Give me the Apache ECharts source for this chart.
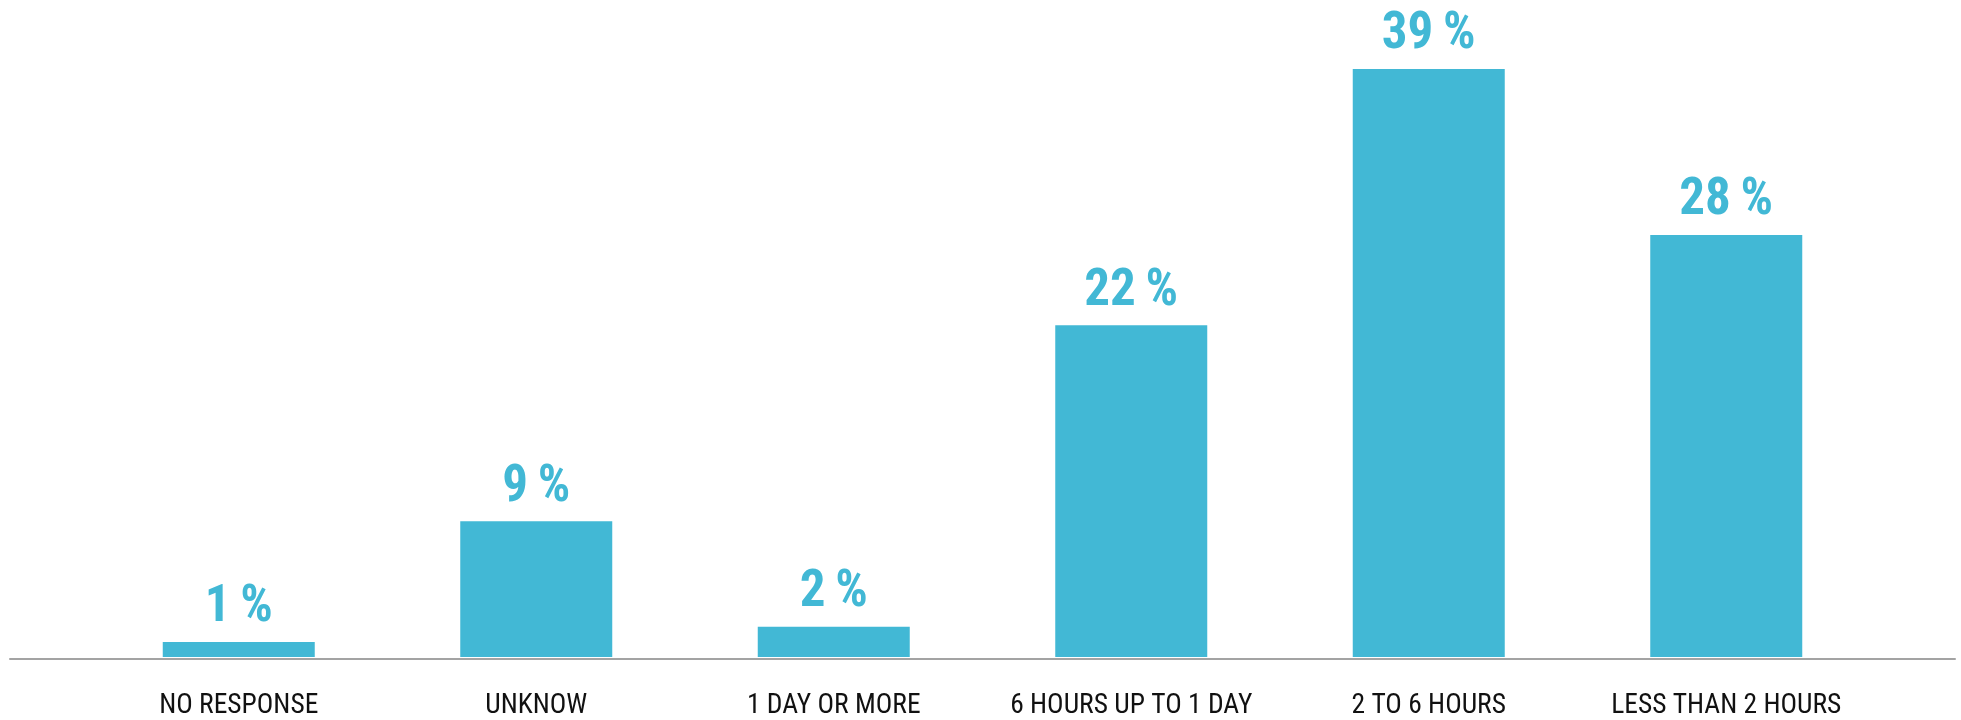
<!DOCTYPE html>
<html>
<head>
<meta charset="utf-8">
<script src="https://cdn.jsdelivr.net/npm/echarts@6/dist/echarts.min.js"></script>
<style>
  html, body { margin: 0; padding: 0; background: #ffffff; }
  #chart { width: 1961px; height: 720px; }
</style>
</head>
<body>
<div id="chart"></div>
<script>
// Response time categories and share of answers (%)
const categories = ['NO RESPONSE', 'UNKNOW', '1 DAY OR MORE', '6 HOURS UP TO 1 DAY', '2 TO 6 HOURS', 'LESS THAN 2 HOURS'];
const shares = [1, 9, 2, 22, 39, 28];

const barColor = '#42b8d5';
const narrowFont = '"Roboto Condensed", Roboto, "Noto Sans", sans-serif';

const chart = echarts.init(document.getElementById('chart'), null, { renderer: 'canvas' });

chart.setOption({
  animation: false,
  backgroundColor: '#ffffff',
  grid: [
    // plotting area for the bars
    { left: 90, width: 1785, top: 54, bottom: 61, containLabel: false },
    // full-width baseline under the bars
    { left: 10, right: 6, top: 54, bottom: 61, containLabel: false }
  ],
  xAxis: [
    {
      type: 'category',
      gridIndex: 0,
      data: categories,
      axisLine: { show: false },
      axisTick: { show: false },
      axisLabel: {
        interval: 0,
        color: '#111111',
        fontFamily: narrowFont,
        fontSize: 27.5,
        margin: 35
      }
    },
    {
      type: 'value',
      gridIndex: 1,
      min: 0,
      max: 1,
      axisLine: { show: true, onZero: false, lineStyle: { color: '#a3a3a3', width: 2 } },
      axisTick: { show: false },
      axisLabel: { show: false },
      splitLine: { show: false }
    }
  ],
  yAxis: [
    {
      type: 'value',
      gridIndex: 0,
      min: 0,
      max: 40,
      show: false
    },
    {
      type: 'value',
      gridIndex: 1,
      min: 0,
      max: 1,
      show: false
    }
  ],
  series: [
    {
      type: 'bar',
      xAxisIndex: 0,
      yAxisIndex: 0,
      data: shares,
      barWidth: 152,
      itemStyle: { color: barColor },
      z: 1,
      label: {
        show: true,
        position: 'top',
        distance: 8,
        color: barColor,
        fontFamily: narrowFont,
        fontWeight: 'bold',
        fontSize: 51,
        formatter: p => p.value + '\u2009%'
      }
    }
  ]
});
</script>
</body>
</html>
